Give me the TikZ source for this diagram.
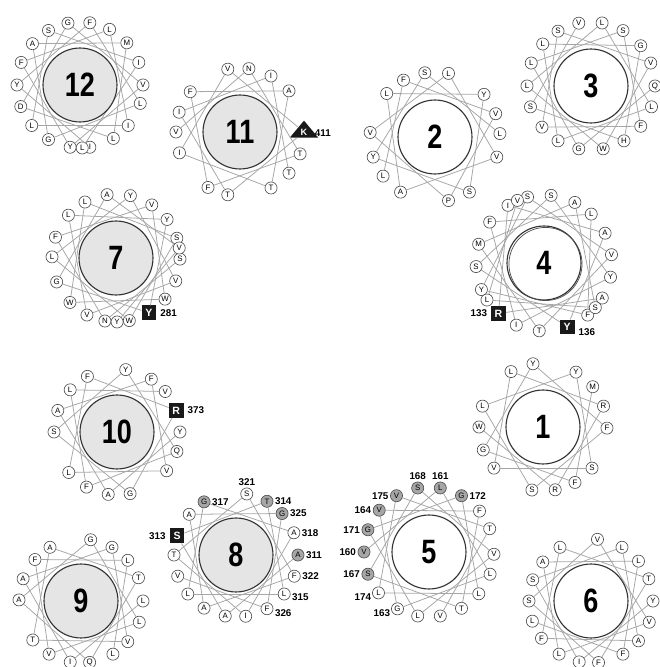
\documentclass[tikz,border=0pt]{standalone}
\usepackage{fontspec}
\setmainfont{Liberation Sans}
\newfontfamily\corefont{Liberation Sans}[FakeStretch=0.8]
\usetikzlibrary{positioning,shapes.geometric}
\begin{document}
\begin{tikzpicture}[x=0.025cm,y=0.025cm,line cap=round,line join=round,
    res/.style={circle,draw=black!70,fill=white,line width=0.45pt,inner sep=0pt,minimum size=8.6pt,font=\fontsize{5.6}{5.6}\selectfont},
    resg/.style={res,fill=black!35},
    resbox/.style={rectangle,fill=black!90,text=white,inner sep=0pt,minimum size=10.5pt,font=\fontsize{7.5}{7.5}\selectfont\bfseries},
    restri/.style={isosceles triangle,isosceles triangle apex angle=80,shape border rotate=90,fill=black!90,text=white,inner sep=0.6pt,minimum height=12pt,font=\fontsize{6.5}{6.5}\selectfont\bfseries},
    core/.style={circle,draw=black!80,fill=white,line width=0.8pt,inner sep=0pt,minimum size=52.6pt,font=\corefont\fontsize{24}{24}\selectfont\bfseries},
    coreg/.style={core,fill=black!10},
    helix/.style={draw=black!35,line width=0.55pt},
    num/.style={inner sep=0.5pt,font=\fontsize{7}{7}\selectfont\bfseries}]
\useasboundingbox (0,0) rectangle (660,667);

% helix 12
\begin{scope}[shift={(80,582)}]
  \foreach \a/\l/\s [count=\i] in {-81/I/res,180/Y/res,81/F/res,-17/L/res,-120/G/res,139/A/res,42/M/res,-58/L/res,-160/D/res,101/G/res,0/V/res,-99/Y/res,159/F/res,62/L/res,-40/I/res,-140/L/res,120/S/res,21/I/res,-88/L/res}
    \node[\s] (w12-\i) at (\a:63) {\l};
  \foreach \i [remember=\i as \j (initially 1)] in {2,...,19}
    \draw[helix] (w12-\j) -- (w12-\i);
  \node[coreg] (c12) at (0,0) {12};
\end{scope}

% helix 11
\begin{scope}[shift={(240,535)}]
  \foreach \a/\l/\s [count=\i] in {180/V/res,82/N/res,-20/T/res,-120/F/res,141/F/res,40/A/res,-61/T/res,-161/I/res,101/V/res,0/K/restri,-101/T/res,162/I/res,61/I/res,-40/T/res}
    \node[\s] (w11-\i) at (\a:64) {\l};
  \foreach \i [remember=\i as \j (initially 1)] in {2,...,14}
    \draw[helix] (w11-\j) -- (w11-\i);
  \node[coreg] (c11) at (0,0) {11};
\end{scope}
\node[num,right=0pt of w11-10,yshift=-1pt] {411};

% helix 2
\begin{scope}[shift={(435,530)}]
  \foreach \a/\l/\s [count=\i] in {-143/L/res,119/F/res,21/V/res,-78/P/res,176/V/res,78/L/res,-18/V/res,-122/A/res,138/L/res,41/Y/res,-58/S/res,-162/Y/res,99/S/res,3/L/res}
    \node[\s] (w2-\i) at (\a:65) {\l};
  \foreach \i [remember=\i as \j (initially 1)] in {2,...,14}
    \draw[helix] (w2-\j) -- (w2-\i);
  \node[core] (c2) at (0,0) {2};
\end{scope}

% helix 3
\begin{scope}[shift={(591,581)}]
  \foreach \a/\l/\s [count=\i] in {0/Q/res,-101/G/res,159/L/res,60/S/res,-39/F/res,-140/V/res,121/S/res,21/V/res,-79/W/res,180/L/res,80/L/res,-19/L/res,-121/L/res,139/L/res,39/G/res,-59/H/res,-161/S/res,101/V/res}
    \node[\s] (w3-\i) at (\a:64) {\l};
  \foreach \i [remember=\i as \j (initially 1)] in {2,...,18}
    \draw[helix] (w3-\j) -- (w3-\i);
  \node[core] (c3) at (0,0) {3};
\end{scope}

% helix 7
\begin{scope}[shift={(116,409)}]
  \foreach \a/\l/\s [count=\i] in {-1/S/res,-100/N/res,161/F/res,56/V/res,-40/W/res,-136/W/res,119/L/res,18/S/res,-78/W/res,179/L/res,77/Y/res,-21/V/res,-117/V/res,138/L/res,37/Y/res,-59/Y/resbox,-158/G/res,98/A/res,9/V/res,-89/Y/res}
    \node[\s] (w7-\i) at (\a:64) {\l};
  \foreach \i [remember=\i as \j (initially 1)] in {2,...,20}
    \draw[helix] (w7-\j) -- (w7-\i);
  \node[coreg] (c7) at (0,0) {7};
\end{scope}
\node[num,right=2pt of w7-16] {281};

% helix 4
\begin{scope}[shift={(544,404)}]
  \foreach \a/\l/\s [count=\i] in {-31/A/res,-132/R/resbox,122/I/res,26/A/res,-70/Y/resbox,-177/S/res,84/S/res,-12/Y/res,-114/I/res,143/F/res,46/L/res,-50/F/res,-157/Y/res,104/S/res,7/V/res,-94/T/res,164/M/res,63/A/res,-41/S/res,-147/L/res,113/V/res}
    \node[\s] (w4-\i) at (\a:68) {\l};
  \foreach \i [remember=\i as \j (initially 1)] in {2,...,21}
    \draw[helix] (w4-\j) -- (w4-\i);
  \node[core] (c4) at (0,0) {4};
  \draw[black!70,line width=0.5pt] (1.5,-1) circle (26pt);
\end{scope}
\node[num,left=2pt of w4-2] {133};
\node[num,right=2pt of w4-5,yshift=-4pt] {136};

% helix 10
\begin{scope}[shift={(117,235)}]
  \foreach \a/\l/\s [count=\i] in {0/Y/res,-98/A/res,160/A/res,57/F/res,-38/V/res,-140/L/res,118/F/res,20/R/resbox,-78/G/res,180/S/res,82/Y/res,-18/Q/res,-119/F/res,138/L/res,40/V/res}
    \node[\s] (w10-\i) at (\a:63) {\l};
  \foreach \i [remember=\i as \j (initially 1)] in {2,...,15}
    \draw[helix] (w10-\j) -- (w10-\i);
  \node[coreg] (c10) at (0,0) {10};
\end{scope}
\node[num,right=2pt of w10-8] {373};

% helix 1
\begin{scope}[shift={(543,240)}]
  \foreach \a/\l/\s [count=\i] in {39/M/res,-60/F/res,-159/G/res,99/Y/res,-1/F/res,-100/S/res,161/L/res,59/Y/res,-40/S/res,-140/V/res,120/L/res,19/R/res,-79/R/res,180/W/res}
    \node[\s] (w1-\i) at (\a:64) {\l};
  \foreach \i [remember=\i as \j (initially 1)] in {2,...,14}
    \draw[helix] (w1-\j) -- (w1-\i);
  \node[core] (c1) at (0,0) {1};
\end{scope}

% helix 8
\begin{scope}[shift={(236,112)}]
  \foreach \a/\l/\s [count=\i] in {0/A/resg,-100/A/res,162/S/resbox,60/T/resg,-39/L/res,-141/L/res,121/G/resg,21/A/res,-81/I/res,180/T/res,80/S/res,-20/F/res,-121/A/res,139/A/res,42/G/resg,-60/F/res,-160/V/res}
    \node[\s] (w8-\i) at (\a:62) {\l};
  \foreach \i [remember=\i as \j (initially 1)] in {2,...,17}
    \draw[helix] (w8-\j) -- (w8-\i);
  \node[coreg] (c8) at (0,0) {8};
\end{scope}
\node[num,right=0.5pt of w8-1] {311};
\node[num,left=2pt of w8-3] {313};
\node[num,right=0.5pt of w8-4] {314};
\node[num,right=0.5pt of w8-5,yshift=-2pt] {315};
\node[num,right=0.5pt of w8-7] {317};
\node[num,right=0.5pt of w8-8] {318};
\node[num,above=0.5pt of w8-11] {321};
\node[num,right=0.5pt of w8-12] {322};
\node[num,right=0.5pt of w8-15] {325};
\node[num,right=0.5pt of w8-16,yshift=-3pt] {326};

% helix 5
\begin{scope}[shift={(429,115)}]
  \foreach \a/\l/\s [count=\i] in {180/V/resg,80/L/resg,-20/L/res,-119/G/res,140/V/resg,39/F/res,-60/T/res,-160/S/resg,100/S/resg,-2/V/res,-100/L/res,160/G/resg,60/G/resg,-40/L/res,-141/L/res,120/V/resg,21/T/res,-80/V/res}
    \node[\s] (w5-\i) at (\a:65) {\l};
  \foreach \i [remember=\i as \j (initially 1)] in {2,...,18}
    \draw[helix] (w5-\j) -- (w5-\i);
  \node[core] (c5) at (0,0) {5};
\end{scope}
\node[num,left=0.5pt of w5-1] {160};
\node[num,above=0.5pt of w5-2] {161};
\node[num,left=0pt of w5-4,yshift=-3pt] {163};
\node[num,left=0.5pt of w5-5] {164};
\node[num,left=0.5pt of w5-8] {167};
\node[num,above=0.5pt of w5-9] {168};
\node[num,left=0.5pt of w5-12] {171};
\node[num,right=0.5pt of w5-13] {172};
\node[num,left=0pt of w5-15,yshift=-3pt] {174};
\node[num,left=0.5pt of w5-16] {175};

% helix 9
\begin{scope}[shift={(81,66)}]
  \foreach \a/\l/\s [count=\i] in {0/L/res,-100/I/res,159/A/res,60/G/res,-41/V/res,-141/T/res,120/A/res,22/T/res,-82/Q/res,179/A/res,81/G/res,-20/L/res,-121/V/res,138/F/res,41/L/res,-59/L/res}
    \node[\s] (w9-\i) at (\a:62) {\l};
  \foreach \i [remember=\i as \j (initially 1)] in {2,...,16}
    \draw[helix] (w9-\j) -- (w9-\i);
  \node[coreg] (c9) at (0,0) {9};
\end{scope}

% helix 6
\begin{scope}[shift={(591,66)}]
  \foreach \a/\l/\s [count=\i] in {0/Y/res,-101/I/res,160/S/res,60/L/res,-40/A/res,-143/F/res,120/L/res,21/T/res,-83/F/res,180/S/res,84/V/res,-20/V/res,-121/L/res,141/A/res,40/L/res,-59/F/res,-161/L/res}
    \node[\s] (w6-\i) at (\a:62) {\l};
  \foreach \i [remember=\i as \j (initially 1)] in {2,...,17}
    \draw[helix] (w6-\j) -- (w6-\i);
  \node[core] (c6) at (0,0) {6};
\end{scope}
\end{tikzpicture}
\end{document}
